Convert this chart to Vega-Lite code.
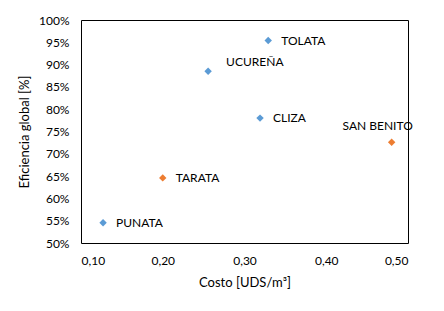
{
  "$schema": "https://vega.github.io/schema/vega-lite/v6.json",
  "width": 327,
  "height": 223,
  "autosize": {"type": "none"},
  "padding": {"left": 81, "top": 20, "right": 36, "bottom": 68},
  "background": "white",
  "config": {
    "locale": {"number": {"decimal": ",", "thousands": ".", "grouping": [3], "currency": ["", ""]}},
    "font": "Lato",
    "view": {"stroke": "#000000", "strokeWidth": 1},
    "axis": {"grid": false, "ticks": false, "domain": false, "labelFont": "Lato", "labelFontSize": 12, "labelColor": "#000000", "titleFont": "Lato", "titleFontSize": 13, "titleFontWeight": "normal", "titleColor": "#000000"}
  },
  "data": {"values": [
    {"name": "TOLATA", "costo": 0.329, "eficiencia": 0.954, "grupo": "A"},
    {"name": "UCUREÑA", "costo": 0.2555, "eficiencia": 0.885, "grupo": "A"},
    {"name": "CLIZA", "costo": 0.319, "eficiencia": 0.78, "grupo": "A"},
    {"name": "SAN BENITO", "costo": 0.48, "eficiencia": 0.726, "grupo": "B"},
    {"name": "TARATA", "costo": 0.2, "eficiencia": 0.646, "grupo": "B"},
    {"name": "PUNATA", "costo": 0.127, "eficiencia": 0.5455, "grupo": "A"}
  ]},
  "encoding": {
    "x": {"field": "costo", "type": "quantitative", "scale": {"domain": [0.1, 0.5], "nice": false, "zero": false}, "axis": {"values": [0.1, 0.2, 0.3, 0.4, 0.5], "format": ".2f", "title": "Costo [UDS/m³]", "labelPadding": 12, "titlePadding": 10}},
    "y": {"field": "eficiencia", "type": "quantitative", "scale": {"domain": [0.5, 1.0], "nice": false, "zero": false}, "axis": {"values": [0.5, 0.55, 0.6, 0.65, 0.7, 0.75, 0.8, 0.85, 0.9, 0.95, 1.0], "format": ".0%", "title": "Eficiencia global [%]", "labelPadding": 12, "titlePadding": 7}}
  },
  "layer": [
    {
      "mark": {"type": "point", "shape": "diamond", "filled": true, "opacity": 1, "size": 55},
      "encoding": {"color": {"field": "grupo", "type": "nominal", "scale": {"domain": ["A", "B"], "range": ["#5B9BD5", "#ED7D31"]}, "legend": null}}
    },
    {
      "transform": [{"filter": "datum.name !== 'UCUREÑA' && datum.name !== 'SAN BENITO'"}],
      "mark": {"type": "text", "align": "left", "baseline": "middle", "dx": 13, "fontSize": 12, "font": "Lato", "color": "#000000"},
      "encoding": {"text": {"field": "name"}}
    },
    {
      "transform": [{"filter": "datum.name === 'UCUREÑA'"}],
      "mark": {"type": "text", "align": "left", "baseline": "middle", "dx": 18, "dy": -9, "fontSize": 12, "font": "Lato", "color": "#000000"},
      "encoding": {"text": {"field": "name"}}
    },
    {
      "transform": [{"filter": "datum.name === 'SAN BENITO'"}],
      "mark": {"type": "text", "align": "center", "baseline": "middle", "dx": -14, "dy": -16, "fontSize": 12, "font": "Lato", "color": "#000000"},
      "encoding": {"text": {"field": "name"}}
    }
  ]
}
